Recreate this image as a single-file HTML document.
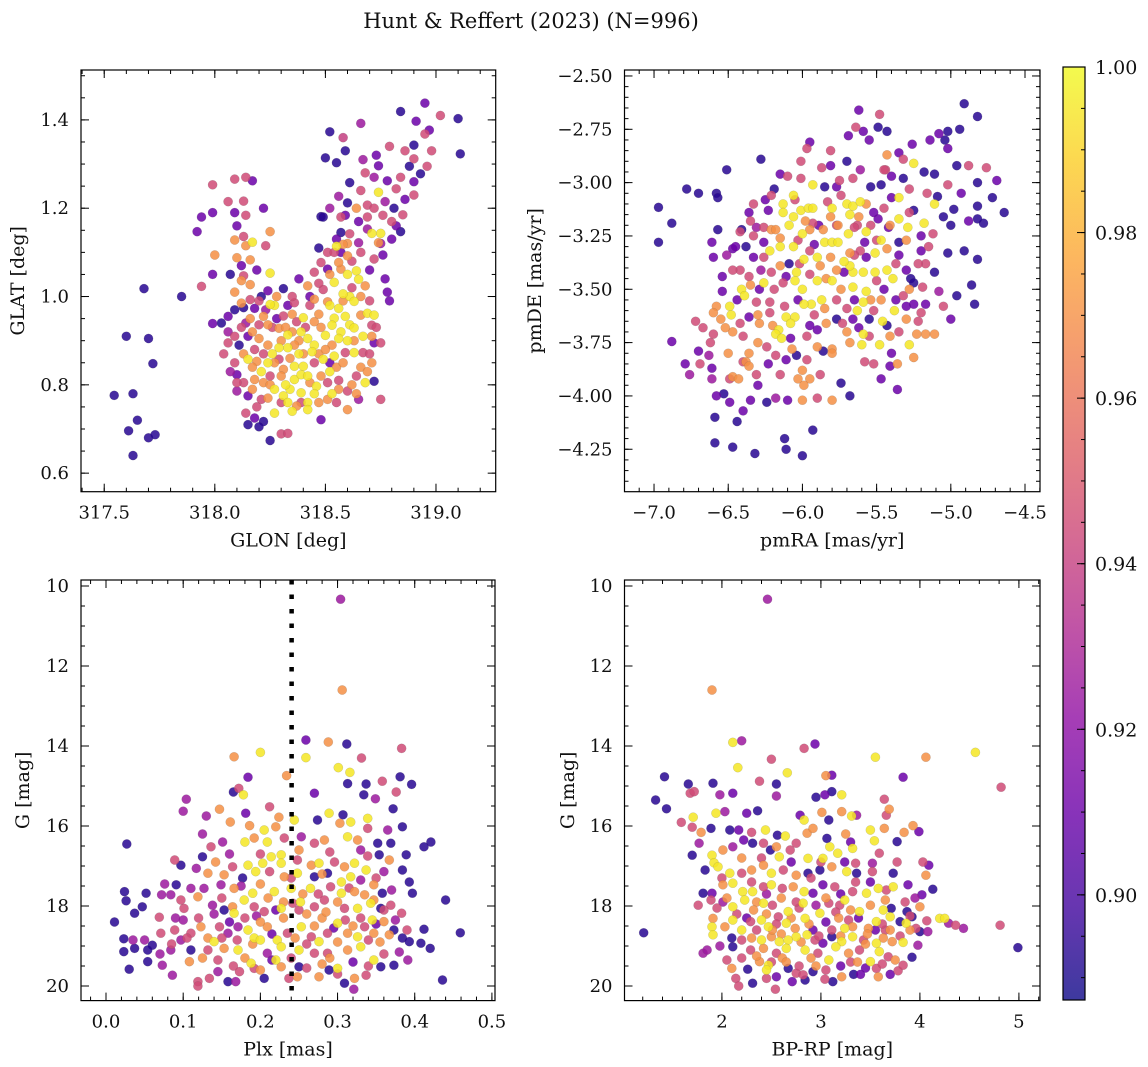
<!DOCTYPE html>
<html><head><meta charset="utf-8">
<style>
html,body{margin:0;padding:0;background:#fff;}
svg{display:block;font-family:"DejaVu Serif","Liberation Serif",serif;}
</style></head>
<body>
<svg id="fig" width="1148" height="1067" viewBox="0 0 1148 1067" xmlns="http://www.w3.org/2000/svg">
<rect x="0" y="0" width="1148" height="1067" fill="#fff"/>
<text x="531" y="28" font-size="21" text-anchor="middle" fill="#111">Hunt &amp; Reffert (2023) (N=996)</text>
</svg>
<script>
// ---- data: [x, y, membership probability] ----
const glonGlat = [
[317.545,0.776,.893],[317.63,0.78,.893],[317.60,0.91,.893],[317.70,0.905,.893],[317.72,0.848,.893],[317.68,1.018,.893],[317.85,1.0,.893],[317.65,0.72,.893],[317.61,0.696,.893],[317.70,0.68,.893],[317.73,0.687,.893],[317.63,0.64,.893],
[318.95,1.438,.91],[318.84,1.419,.893],[319.02,1.41,.945],[319.1,1.403,.893],[318.66,1.392,.925],[318.52,1.373,.893],[318.58,1.36,.94],[318.91,1.397,.91],[318.97,1.377,.91],[318.95,1.368,.945],[318.59,1.33,.893],[318.79,1.34,.945],[318.86,1.33,.945],[318.9,1.343,.893],[319.11,1.323,.893],[318.5,1.314,.893],[318.55,1.303,.893],[318.67,1.31,.925],[318.73,1.32,.91],[318.9,1.312,.945],[318.88,1.295,.893],[318.96,1.295,.945],[318.93,1.278,.893],[318.9,1.26,.91],[318.74,1.296,.91],[318.68,1.28,.945],[318.72,1.27,.925],[318.78,1.262,.91],[318.82,1.244,.945],[318.61,1.258,.893],[318.66,1.24,.945],[318.74,1.236,.995],[318.9,1.23,.945],[318.56,1.227,.925],[318.6,1.212,.893],[318.69,1.207,.945],[318.77,1.215,.925],[318.81,1.2,.893],[318.85,1.185,.945],[318.59,1.184,.91],[318.48,1.181,.893],[318.69,1.18,.945],[318.76,1.184,.945],[318.69,1.153,.925],[318.82,1.16,.91],[318.84,1.147,.893],[318.57,1.145,.893],[318.61,1.142,.945],[318.71,1.143,.995],[318.75,1.143,.995],[318.8,1.13,.91],[318.74,1.122,.97],[318.65,1.122,.925],[318.55,1.13,.91],[318.47,1.11,.893],[318.51,1.1,.945],[318.6,1.12,.97],[318.76,1.094,.91],[318.72,1.085,.945],
[317.99,1.253,.945],[318.09,1.266,.945],[318.14,1.27,.945],[318.17,1.262,.91],[318.06,1.215,.945],[318.13,1.216,.945],[318.22,1.2,.91],[317.94,1.18,.91],[317.99,1.19,.91],[318.09,1.19,.91],[318.14,1.184,.945],[318.1,1.16,.91],[317.92,1.147,.91],[318.25,1.147,.97],[318.13,1.136,.945],[318.17,1.123,.995],[318.09,1.128,.97],[318.14,1.115,.97],[318.23,1.115,.945],[318.0,1.094,.97],[318.1,1.088,.97],[318.16,1.083,.97],[318.12,1.07,.91],[317.99,1.05,.91],[318.07,1.05,.893],[318.13,1.047,.945],[318.19,1.06,.91],[318.25,1.053,.995],[317.94,1.023,.945],[318.12,1.036,.97],[318.16,1.027,.97],[318.09,1.01,.97],[318.24,1.013,.91],[318.49,1.18,.893],[318.38,1.04,.91],[318.31,1.018,.893],
[317.99,0.939,.91],[318.03,0.94,.893],[318.06,0.955,.91],[318.09,0.97,.893],[318.13,0.975,.893],[318.18,0.973,.91],[318.22,0.955,.97],[318.27,0.98,.995],[318.31,0.956,.945],[318.36,0.986,.945],[318.4,0.952,.995],[318.45,0.994,.97],[318.49,1.016,.945],[318.54,1.032,.995],[318.57,1.062,.97],[318.6,1.092,.97],[318.64,1.058,.995],[318.65,1.039,.995],[318.68,1.024,.97],[318.61,1.0,.995],[318.58,1.006,.995],[318.63,0.989,.995],[318.56,0.973,.995],[318.54,0.951,.995],[318.59,0.955,.995],[318.61,0.936,.995],[318.66,0.958,.97],[318.69,0.962,.995],[318.71,0.935,.945],[318.57,0.92,.995],[318.56,0.905,.995],[318.6,0.9,.995],[318.53,0.935,.995],[318.5,0.912,.995],[318.45,0.89,.995],[318.42,0.905,.995],[318.39,0.92,.995],[318.44,0.875,.995],[318.38,0.87,.995],[318.33,0.884,.995],[318.29,0.884,.995],[318.24,0.89,.97],[318.2,0.905,.97],[318.15,0.91,.91],[318.11,0.89,.893],[318.09,0.91,.945],[318.06,0.895,.945],[318.15,0.858,.995],[318.19,0.853,.97],[318.24,0.85,.995],[318.29,0.858,.945],[318.31,0.835,.97],[318.36,0.842,.995],[318.4,0.842,.995],[318.45,0.85,.945],[318.49,0.858,.995],[318.54,0.865,.995],[318.59,0.873,.945],[318.63,0.873,.995],[318.67,0.873,.945],[318.71,0.85,.97],[318.72,0.895,.91],[318.75,0.895,.945],[318.71,0.91,.97],[318.09,0.85,.945],[318.1,0.823,.91],[318.13,0.805,.945],[318.18,0.812,.97],[318.22,0.805,.97],[318.27,0.79,.995],[318.31,0.775,.995],[318.34,0.79,.995],[318.39,0.782,.995],[318.43,0.805,.97],[318.46,0.797,.995],[318.51,0.805,.945],[318.56,0.79,.97],[318.6,0.786,.945],[318.65,0.767,.925],[318.68,0.805,.995],[318.72,0.808,.893],[318.75,0.767,.945],[318.1,0.786,.925],[318.15,0.775,.91],[318.21,0.767,.945],[318.27,0.736,.995],[318.33,0.76,.995],[318.37,0.752,.97],[318.42,0.76,.995],[318.42,0.744,.995],[318.48,0.721,.91],[318.51,0.767,.97],[318.6,0.744,.97],[318.14,0.736,.945],[318.15,0.71,.893],[318.18,0.725,.91],[318.22,0.717,.893],[318.2,0.705,.893],[318.25,0.674,.893],[318.3,0.689,.945],[318.33,0.69,.945],[318.2,0.936,.945],[318.24,0.936,.97],[318.29,0.928,.97],[318.33,0.913,.995],[318.37,0.943,.945],[318.45,0.943,.97],[318.33,0.98,.91],[318.42,1.024,.97],[318.45,1.055,.945],[318.48,1.077,.945],[318.51,1.062,.91],[318.54,1.1,.945],[318.55,1.114,.995],[318.58,1.118,.97],[318.56,1.077,.97],[318.51,0.988,.97],[318.63,0.929,.995],[318.52,0.85,.91],[318.36,0.812,.995],[318.39,0.823,.995],[318.3,0.82,.97],[318.1,0.805,.945],[318.12,0.985,.97],[318.16,0.993,.945],[318.21,1.0,.893],[318.25,0.982,.995],[318.77,1.04,.91],[318.78,1.01,.91],[318.79,0.99,.91],[318.72,0.958,.995],
[318.26,0.93,.945],[318.35,0.96,.97],[318.47,0.96,.97],[318.3,0.9,.97],[318.47,0.87,.97],[318.55,0.84,.97],[318.4,0.87,.97],[318.18,0.88,.945],[318.25,0.82,.945],[318.56,0.81,.945],[318.66,0.84,.97],[318.43,0.98,.945],[318.35,0.92,.97],
[318.14,0.94,.925],[318.17,0.92,.97],[318.23,0.97,.925],[318.28,0.95,.91],[318.32,0.93,.97],[318.38,0.9,.97],[318.41,0.93,.945],[318.48,0.93,.97],[318.52,0.98,.995],[318.58,0.99,.97],[318.62,1.02,.945],[318.66,1.0,.97],[318.7,0.99,.945],[318.6,1.05,.995],[318.62,1.08,.945],[318.57,1.1,.91],[318.66,1.1,.945],[318.7,1.06,.91],[318.52,1.05,.97],[318.47,1.03,.945],[318.43,1.0,.91],[318.35,1.0,.945],[318.28,1.0,.97],[318.2,0.99,.945],[318.16,0.95,.97],[318.12,0.93,.945],[318.13,0.87,.97],[318.17,0.84,.97],[318.21,0.83,.995],[318.27,0.85,.97],[318.34,0.86,.97],[318.42,0.82,.995],[318.48,0.82,.97],[318.52,0.83,.995],[318.58,0.85,.97],[318.64,0.82,.945],[318.69,0.83,.97],[318.62,0.8,.97],[318.53,0.78,.995],[318.47,0.76,.97],[318.39,0.76,.945],[318.35,0.74,.995],[318.3,0.76,.945],[318.24,0.77,.97],[318.19,0.75,.945],[318.17,0.79,.97],[318.25,0.8,.97],[318.32,0.8,.995],[318.45,0.78,.995],[318.55,0.76,.945],[318.64,0.78,.97],[318.7,0.87,.945],[318.73,0.93,.945],[318.67,0.91,.995],[318.63,0.9,.97],[318.53,0.89,.97],[318.5,0.88,.97],[318.36,0.89,.97],[318.26,0.87,.995],[318.22,0.87,.945],[318.06,0.92,.925],[318.04,0.87,.945],[318.07,0.83,.925],[318.75,1.12,.925],[318.8,1.17,.945],[318.72,1.2,.945],[318.65,1.17,.91],[318.86,1.22,.91],[318.84,1.27,.945],[318.98,1.33,.945],[318.64,1.2,.97],[318.52,1.2,.925],[318.57,1.18,.945]
];
const pmraPmde = [
[-6.97,-3.116,.893],[-6.88,-3.19,.893],[-6.97,-3.28,.893],[-6.78,-3.03,.893],[-6.70,-3.05,.893],[-6.58,-3.05,.893],[-6.57,-3.07,.893],[-6.51,-2.94,.893],[-6.28,-2.89,.893],[-6.57,-3.22,.893],[-6.61,-3.28,.91],[-6.60,-3.35,.91],[-6.88,-3.745,.91],[-6.72,-3.65,.945],[-6.67,-3.68,.945],[-6.60,-3.71,.945],[-6.79,-3.85,.91],[-6.69,-3.85,.945],[-6.76,-3.9,.925],[-6.70,-3.79,.91],[-6.63,-3.81,.925],[-6.61,-3.87,.91],[-6.61,-3.92,.925],[-6.58,-4.0,.91],[-6.53,-3.99,.893],[-6.49,-4.03,.91],[-6.59,-4.1,.893],[-6.44,-4.12,.893],[-6.40,-4.07,.91],[-6.59,-4.22,.893],[-6.47,-4.24,.893],[-6.32,-4.27,.893],[-6.12,-4.2,.893],[-6.11,-4.25,.893],[-6.0,-4.28,.893],[-5.93,-4.16,.893],[-5.74,-3.94,.893],[-5.68,-4.0,.893],[-5.80,-4.02,.97],[-5.90,-4.01,.945],[-6.0,-4.02,.97],[-6.10,-4.02,.91],[-6.18,-4.01,.925],[-6.24,-4.03,.893],[-6.35,-4.02,.91],[-5.36,-3.97,.91],[-5.47,-3.92,.91],[-5.41,-3.86,.91],[-5.36,-3.85,.97],[-5.25,-3.82,.97],[-5.58,-3.84,.945],[-5.52,-3.85,.945],[-5.62,-2.66,.91],[-5.48,-2.68,.945],[-5.64,-2.74,.945],[-5.59,-2.76,.91],[-5.49,-2.74,.893],[-5.43,-2.76,.893],[-5.69,-2.78,.91],[-5.55,-2.8,.91],[-4.91,-2.63,.893],[-4.82,-2.69,.893],[-4.94,-2.75,.893],[-5.02,-2.76,.893],[-5.08,-2.77,.91],[-5.04,-2.8,.893],[-5.14,-2.8,.91],[-5.26,-2.82,.91],[-5.02,-2.84,.91],[-4.96,-2.92,.893],[-4.88,-2.92,.945],[-4.76,-2.93,.945],[-4.69,-2.99,.91],[-4.82,-3.0,.893],[-4.72,-3.07,.893],[-4.64,-3.14,.893],[-4.78,-3.19,.893],[-4.82,-3.17,.893],[-4.88,-3.18,.91],[-4.98,-3.125,.893],[-4.82,-3.11,.893],[-4.93,-3.05,.91],[-5.02,-3.01,.945],[-5.09,-3.065,.893],[-5.05,-3.16,.893],[-5.0,-3.2,.893],[-5.02,-3.33,.893],[-4.91,-3.32,.893],[-4.82,-3.36,.893],[-5.11,-3.42,.893],[-4.86,-3.48,.893],[-4.96,-3.53,.893],[-4.84,-3.57,.893],[-5.0,-3.64,.91],[-5.05,-3.58,.945],[-5.08,-3.51,.925],[-5.17,-3.57,.91],[-5.27,-3.45,.893],[-5.20,-3.32,.91],[-5.17,-3.38,.945],[-5.25,-3.13,.893],[-5.16,-3.05,.945],[-5.35,-3.07,.995],[-5.25,-2.91,.995],[-5.43,-2.87,.97],[-5.35,-2.86,.91],[-5.32,-2.89,.945],[-5.44,-2.94,.945],[-5.32,-2.98,.893],[-5.28,-3.03,.945],[-5.18,-2.95,.893],[-5.11,-2.96,.893],[-5.11,-3.1,.995],[-5.18,-3.19,.995],[-5.12,-3.24,.945],[-5.29,-3.21,.995],[-5.35,-3.17,.995],
[-5.93,-3.01,.995],[-6.06,-3.06,.995],[-6.13,-3.1,.995],[-6.13,-3.14,.995],[-6.01,-3.13,.995],[-5.96,-3.12,.995],[-5.93,-3.12,.995],[-5.80,-3.12,.995],[-5.81,-3.16,.97],[-5.70,-3.1,.995],[-5.66,-3.11,.995],[-5.61,-3.09,.995],[-5.57,-3.1,.97],[-5.68,-3.15,.995],[-6.06,-3.16,.995],[-6.09,-3.2,.995],[-6.0,-3.24,.995],[-6.15,-3.3,.995],[-6.06,-3.3,.995],[-5.85,-3.28,.995],[-5.80,-3.28,.995],[-5.76,-3.28,.995],[-5.69,-3.24,.995],[-5.57,-3.23,.995],[-5.47,-3.27,.995],[-5.51,-3.33,.995],[-5.43,-3.31,.97],[-5.43,-3.41,.995],[-5.39,-3.45,.995],[-5.51,-3.42,.995],[-5.59,-3.42,.995],[-5.66,-3.42,.995],[-5.68,-3.39,.995],[-5.72,-3.37,.995],[-5.90,-3.35,.995],[-5.99,-3.36,.995],[-6.04,-3.42,.995],[-6.05,-3.46,.995],[-6.0,-3.5,.995],[-5.90,-3.46,.995],[-5.80,-3.46,.995],[-5.74,-3.5,.97],[-5.66,-3.49,.995],[-5.57,-3.51,.995],[-5.59,-3.56,.995],[-5.54,-3.55,.97],[-5.63,-3.6,.995],[-5.59,-3.71,.995],[-5.60,-3.76,.995],[-5.46,-3.65,.995],[-5.38,-3.6,.995],[-5.28,-3.76,.995],[-5.48,-3.76,.995],[-5.68,-3.75,.97],[-5.80,-3.78,.97],[-5.87,-3.55,.995],[-5.94,-3.57,.995],[-5.99,-3.57,.995],[-6.05,-3.63,.995],[-6.11,-3.63,.995],[-6.08,-3.66,.995],[-6.16,-3.69,.995],[-6.18,-3.71,.995],[-6.14,-3.73,.995],[-6.29,-3.66,.97],[-6.26,-3.47,.995],[-6.41,-3.5,.995],[-6.39,-3.53,.995],[-6.49,-3.58,.995],[-6.48,-3.62,.995],[-6.58,-3.58,.97],[-6.60,-3.61,.97],[-6.47,-3.7,.97],[-6.52,-3.68,.97],[-6.42,-3.66,.945],[-6.36,-3.63,.91],[-6.31,-3.56,.945],[-6.22,-3.56,.945],[-6.24,-3.77,.945],[-6.30,-3.75,.97],[-6.36,-3.8,.97],[-6.38,-3.84,.97],[-6.36,-3.86,.97],[-6.47,-3.91,.97],[-6.49,-3.92,.945],[-6.43,-3.92,.97],[-6.31,-3.9,.945],[-6.23,-3.85,.91],[-6.18,-3.81,.945],[-6.11,-3.83,.91],[-6.04,-3.81,.893],[-5.97,-3.83,.945],[-6.0,-3.88,.97],[-5.95,-3.92,.97],[-6.03,-3.92,.97],[-5.99,-3.95,.97],[-5.88,-3.9,.945],[-5.86,-3.79,.893],[-5.80,-3.8,.97],[-6.26,-3.35,.945],[-6.22,-3.32,.995],[-6.33,-3.35,.91],[-6.36,-3.44,.945],[-6.42,-3.41,.945],[-6.47,-3.41,.945],[-6.54,-3.51,.91],[-6.38,-3.3,.893],[-6.26,-3.28,.91],[-6.33,-3.25,.945],[-6.21,-3.22,.97],[-6.18,-3.22,.97],[-6.42,-3.23,.945],[-6.47,-3.31,.91],[-6.36,-3.14,.91],[-6.33,-3.1,.945],[-6.23,-3.13,.91],[-6.19,-3.03,.893],[-6.21,-3.06,.945],[-6.15,-2.96,.91],[-6.10,-2.97,.945],[-6.01,-2.98,.945],[-5.97,-2.84,.945],[-5.95,-2.81,.91],[-6.01,-2.9,.945],[-5.87,-2.93,.945],[-5.81,-2.85,.945],[-5.81,-2.92,.91],[-5.70,-2.9,.893],[-5.85,-3.02,.893],[-5.77,-3.02,.91],[-5.75,-2.99,.945],[-5.66,-2.98,.945],[-5.61,-2.94,.925],[-5.54,-3.02,.893],[-5.47,-3.01,.893],[-5.45,-2.94,.945],[-5.40,-2.97,.91],[-5.40,-3.07,.91],[-5.49,-3.17,.91],[-5.54,-3.2,.945],[-5.41,-3.2,.97],[-5.35,-3.34,.91],[-5.30,-3.41,.91],[-5.35,-3.28,.893],[-5.22,-3.38,.945],[-5.25,-3.47,.893],[-5.19,-3.49,.945],[-5.32,-3.53,.945],[-5.37,-3.55,.91],[-5.25,-3.57,.91],[-5.20,-3.61,.945],[-5.30,-3.64,.97],[-5.23,-3.71,.97],[-5.17,-3.71,.97],[-5.11,-3.71,.97],[-5.35,-3.7,.945],[-5.41,-3.72,.97],[-5.43,-3.67,.893],[-5.52,-3.6,.945],[-5.55,-3.64,.893],[-5.66,-3.64,.91],[-5.73,-3.66,.945],[-5.77,-3.64,.893],[-5.84,-3.66,.97],[-5.90,-3.69,.91],[-5.97,-3.72,.945],[-6.08,-3.73,.91],[-5.77,-3.55,.945],[-5.84,-3.45,.97],[-5.77,-3.41,.97],[-5.95,-3.43,.945],[-6.13,-3.47,.945],[-6.15,-3.39,.97],[-6.21,-3.42,.945],[-6.09,-3.38,.893],[-5.95,-3.32,.945],[-5.86,-3.22,.97],[-5.93,-3.19,.945],[-5.77,-3.2,.945],[-5.63,-3.2,.945],[-5.61,-3.32,.945],[-5.57,-3.35,.91],[-5.81,-3.35,.97],[-5.68,-3.33,.97],[-6.26,-3.21,.945],[-6.31,-3.21,.925],[-6.41,-3.22,.893],[-6.28,-3.41,.925],[-6.54,-3.44,.91],[-6.51,-3.34,.925],[-6.22,-3.61,.945],[-6.29,-3.5,.91],[-5.95,-3.22,.97],
[-6.05,-3.08,.945],[-5.98,-3.18,.97],[-5.89,-3.2,.91],[-5.74,-3.06,.945],[-5.62,-3.16,.97],[-5.52,-3.14,.91],[-5.45,-3.12,.945],[-5.58,-3.28,.91],[-5.65,-3.34,.945],[-5.72,-3.42,.91],[-5.88,-3.39,.97],[-6.02,-3.38,.945],[-6.11,-3.44,.91],[-6.19,-3.5,.945],[-6.3,-3.62,.97],[-6.4,-3.72,.945],[-6.55,-3.64,.97],[-6.44,-3.55,.91],[-6.35,-3.48,.97],[-6.2,-3.67,.97],[-6.12,-3.58,.945],[-6.03,-3.55,.91],[-5.92,-3.62,.945],[-5.85,-3.59,.97],[-5.7,-3.59,.945],[-5.62,-3.68,.91],[-5.5,-3.46,.945],[-5.45,-3.5,.91],[-5.37,-3.38,.945],[-5.3,-3.27,.97],[-5.28,-3.5,.97],[-5.22,-3.65,.945],[-5.4,-3.8,.91],[-5.55,-3.72,.945],[-5.7,-3.7,.97],[-5.9,-3.77,.97],[-6.07,-3.78,.97],[-6.15,-3.9,.945],[-6.3,-3.95,.91],[-6.4,-3.84,.945],[-6.5,-3.8,.97],[-6.62,-3.75,.945],[-6.45,-3.3,.91],[-6.35,-3.18,.945],[-6.25,-3.08,.91],[-6.15,-3.26,.97],[-6.03,-3.27,.945],[-5.92,-3.29,.91],[-5.83,-3.09,.945],[-5.76,-3.2,.97],[-5.65,-3.21,.945],[-5.5,-3.27,.945],[-5.42,-3.21,.91],[-5.28,-3.14,.945],[-5.2,-3.25,.91],[-5.15,-3.3,.945],[-5.3,-3.58,.91],[-5.47,-3.55,.97],[-5.65,-3.55,.91],[-5.95,-3.67,.91]
];
const plxG = [
[0.304,10.33,.925],[0.306,12.6,.97],[0.259,13.85,.91],[0.288,13.9,.97],[0.312,13.95,.893],[0.383,14.06,.945],[0.2,14.16,.995],[0.166,14.27,.97],[0.259,14.29,.995],[0.331,14.3,.945],[0.301,14.54,.995],[0.316,14.66,.995],[0.234,14.74,.97],[0.184,14.78,.91],[0.381,14.77,.893],[0.396,14.96,.893],[0.313,14.94,.893],[0.358,14.88,.945],[0.337,14.95,.893],[0.165,15.15,.893],[0.172,15.06,.945],[0.178,15.22,.995],[0.27,15.18,.91],[0.376,15.15,.945],[0.104,15.33,.925],[0.1,15.63,.925],[0.147,15.58,.97],[0.13,15.75,.925],[0.181,15.68,.91],[0.212,15.52,.945],[0.224,15.78,.97],[0.289,15.68,.995],[0.339,15.81,.995],[0.307,15.72,.893],[0.372,15.57,.893],[0.349,15.32,.925],[0.334,15.22,.893],[0.384,16.02,.893],[0.365,16.1,.925],[0.161,15.9,.97],[0.186,15.99,.97],[0.205,16.1,.995],[0.22,16.02,.97],[0.244,15.85,.995],[0.274,15.85,.893],[0.303,15.93,.97],[0.317,15.9,.995],[0.339,16.06,.945],[0.421,16.4,.893],[0.412,16.52,.893],[0.027,16.45,.893],[0.125,16.2,.925],[0.151,16.4,.925],[0.136,16.52,.945],[0.18,16.4,.995],[0.192,16.3,.97],[0.209,16.4,.995],[0.231,16.3,.945],[0.253,16.27,.925],[0.27,16.43,.945],[0.283,16.35,.97],[0.313,16.27,.995],[0.326,16.35,.97],[0.352,16.43,.893],[0.369,16.43,.893],[0.389,16.72,.893],[0.089,16.85,.945],[0.097,16.98,.893],[0.117,17.06,.925],[0.125,16.77,.893],[0.142,16.9,.97],[0.164,17.02,.945],[0.184,16.98,.995],[0.203,16.93,.995],[0.214,16.77,.995],[0.227,16.72,.995],[0.227,16.93,.995],[0.248,16.85,.945],[0.266,16.98,.97],[0.276,16.93,.995],[0.296,16.9,.945],[0.309,17.02,.97],[0.322,16.93,.995],[0.339,16.75,.945],[0.354,16.72,.893],[0.367,16.85,.97],[0.384,17.1,.893],[0.132,17.18,.97],[0.153,17.22,.97],[0.177,17.3,.893],[0.194,17.14,.995],[0.212,17.14,.945],[0.231,17.27,.97],[0.248,17.18,.995],[0.27,17.27,.893],[0.287,17.18,.893],[0.305,17.4,.995],[0.317,17.27,.995],[0.337,17.1,.995],[0.347,17.47,.97],[0.36,17.14,.925],[0.393,17.4,.893],[0.397,17.68,.893],[0.076,17.45,.925],[0.091,17.47,.893],[0.11,17.56,.925],[0.127,17.56,.925],[0.149,17.47,.925],[0.166,17.56,.97],[0.19,17.68,.995],[0.218,17.64,.995],[0.24,17.56,.995],[0.265,17.56,.995],[0.291,17.52,.945],[0.305,17.68,.995],[0.322,17.64,.97],[0.335,17.72,.97],[0.347,17.85,.97],[0.358,17.68,.893],[0.024,17.64,.893],[0.026,17.87,.893],[0.037,18.18,.893],[0.047,18.02,.893],[0.052,17.68,.893],[0.072,17.72,.925],[0.084,17.72,.925],[0.101,18.06,.945],[0.097,17.85,.945],[0.119,17.77,.97],[0.138,17.98,.925],[0.153,18.1,.893],[0.164,18.02,.97],[0.179,17.85,.995],[0.192,18.02,.945],[0.205,18.14,.945],[0.227,18.06,.995],[0.242,17.93,.945],[0.252,17.9,.995],[0.27,18.02,.945],[0.283,17.85,.945],[0.309,18.06,.945],[0.326,18.06,.995],[0.343,17.93,.995],[0.356,18.06,.893],[0.369,17.98,.945],[0.383,18.18,.945],[0.44,17.85,.893],[0.011,18.4,.893],[0.023,18.82,.893],[0.035,18.85,.925],[0.023,19.14,.893],[0.037,19.06,.893],[0.05,18.85,.925],[0.06,18.98,.893],[0.069,18.28,.945],[0.071,18.68,.945],[0.089,18.6,.945],[0.097,18.85,.925],[0.11,18.68,.945],[0.123,18.52,.97],[0.132,18.8,.97],[0.14,18.89,.995],[0.147,18.52,.945],[0.158,18.68,.925],[0.166,18.18,.995],[0.171,18.52,.925],[0.184,18.6,.995],[0.192,18.8,.995],[0.2,18.85,.995],[0.209,18.52,.97],[0.222,18.85,.995],[0.227,19.02,.995],[0.235,18.68,.945],[0.253,18.52,.995],[0.266,18.77,.945],[0.276,18.89,.995],[0.287,18.68,.945],[0.3,18.43,.995],[0.313,18.68,.97],[0.326,18.77,.995],[0.335,18.52,.945],[0.345,18.35,.995],[0.347,18.68,.97],[0.36,18.39,.97],[0.367,18.72,.97],[0.373,18.6,.893],[0.384,18.8,.893],[0.393,18.89,.893],[0.408,18.93,.893],[0.412,18.58,.893],[0.42,19.06,.893],[0.459,18.67,.893],[0.03,19.58,.893],[0.054,19.39,.893],[0.073,19.48,.925],[0.086,19.73,.925],[0.108,19.39,.97],[0.119,19.89,.945],[0.119,20.0,.945],[0.134,19.81,.945],[0.145,19.64,.925],[0.158,19.89,.893],[0.168,19.89,.925],[0.173,19.64,.945],[0.188,19.43,.995],[0.192,19.56,.945],[0.205,19.81,.893],[0.22,19.35,.995],[0.227,19.52,.97],[0.237,19.81,.945],[0.248,19.77,.97],[0.25,19.52,.893],[0.25,19.1,.995],[0.276,19.77,.97],[0.289,19.6,.893],[0.3,19.56,.995],[0.309,19.93,.893],[0.321,20.08,.925],[0.322,19.81,.97],[0.337,19.73,.945],[0.347,19.35,.995],[0.356,19.52,.893],[0.373,19.48,.893],[0.391,19.35,.925],[0.436,19.85,.893],[0.27,19.18,.945],[0.287,19.18,.945],[0.313,19.1,.97],[0.33,19.02,.995],[0.209,19.18,.925],[0.171,19.1,.995],[0.153,19.06,.97],[0.132,19.1,.945],[0.11,19.1,.893],[0.084,19.1,.925],[0.054,19.1,.893],
[0.2,18.4,.97],[0.28,18.3,.97],[0.3,18.9,.97],[0.18,18.3,.945],[0.26,18.2,.97],[0.33,18.3,.945],[0.15,18.8,.945],[0.24,19.3,.945],[0.29,19.3,.97],[0.21,17.8,.97],
[0.12,18.3,.945],[0.14,18.2,.925],[0.16,18.4,.91],[0.17,18.85,.945],[0.18,19.3,.97],[0.195,18.25,.925],[0.215,18.7,.91],[0.23,18.3,.97],[0.245,18.8,.97],[0.26,18.95,.945],[0.27,18.5,.97],[0.285,18.15,.97],[0.295,18.55,.91],[0.31,18.35,.945],[0.32,18.5,.97],[0.34,18.85,.945],[0.355,18.9,.97],[0.36,18.1,.945],[0.375,18.35,.925],[0.39,18.6,.945],[0.1,18.35,.925],[0.085,18.95,.945],[0.07,19.2,.925],[0.125,19.3,.97],[0.145,19.35,.945],[0.165,19.5,.945],[0.2,19.6,.97],[0.215,19.35,.91],[0.26,19.55,.945],[0.28,19.45,.97],[0.3,19.7,.945],[0.32,19.4,.91],[0.34,19.5,.945],[0.36,19.2,.945],[0.38,19.15,.925],[0.15,17.8,.945],[0.175,17.5,.925],[0.2,17.45,.97],[0.23,17.9,.97],[0.255,17.7,.97],[0.275,17.7,.945],[0.3,17.9,.97],[0.315,17.55,.945],[0.33,17.35,.925],[0.35,17.3,.945],[0.37,17.6,.925],[0.2,16.7,.945],[0.25,16.6,.97],[0.29,16.65,.945],[0.33,16.6,.925],[0.16,16.7,.925],[0.24,17.3,.945],[0.28,17.2,.97],[0.19,18.95,.97],[0.25,18.1,.945],[0.22,18.1,.91],[0.35,18.45,.91],[0.105,18.8,.945],[0.09,18.3,.925]
];
const bprpG = [
[2.46,10.33,.925],[1.90,12.6,.97],[2.11,13.91,.995],[2.20,13.87,.925],[2.94,13.95,.91],[2.83,14.06,.945],[2.50,14.33,.945],[3.55,14.28,.995],[4.06,14.28,.97],[4.56,14.16,.995],[2.16,14.54,.995],[2.66,14.67,.995],[3.05,14.74,.97],[3.11,14.73,.91],[3.83,14.78,.91],[4.82,15.03,.945],[1.42,14.77,.893],[1.66,14.95,.893],[1.91,14.93,.893],[2.38,14.88,.945],[2.55,14.95,.893],[1.33,15.35,.893],[1.44,15.57,.893],[1.68,15.18,.945],[1.72,15.14,.945],[1.98,15.22,.925],[2.11,15.18,.91],[2.55,15.25,.925],[2.95,15.28,.893],[3.04,15.22,.91],[3.11,15.14,.893],[3.21,15.22,.995],[1.59,15.91,.945],[1.71,15.78,.995],[1.94,15.68,.995],[2.03,15.64,.925],[2.25,15.68,.91],[2.36,15.62,.893],[2.79,15.73,.91],[2.83,15.85,.995],[3.01,15.66,.97],[3.08,15.85,.893],[3.21,15.64,.97],[3.31,15.75,.995],[3.36,15.73,.925],[3.64,15.33,.945],[3.69,15.58,.97],[3.66,15.73,.945],[3.93,15.99,.97],[3.99,16.14,.91],[1.70,16.03,.945],[1.79,16.16,.97],[1.89,16.06,.893],[2.08,16.1,.893],[2.17,16.1,.91],[2.30,16.16,.945],[2.44,16.1,.995],[2.56,16.23,.893],[2.64,16.25,.995],[2.86,16.18,.97],[2.92,16.06,.97],[3.06,16.31,.893],[3.25,16.2,.97],[3.50,16.1,.995],[3.54,16.37,.995],[3.64,16.06,.97],[3.84,16.16,.97],[3.77,16.39,.893],[1.70,16.73,.893],[1.77,16.43,.925],[1.90,16.73,.995],[1.92,16.92,.995],[2.01,16.6,.97],[2.11,16.52,.925],[2.22,16.35,.91],[2.31,16.43,.893],[2.42,16.43,.945],[2.49,16.6,.893],[2.55,16.52,.97],[2.58,16.77,.995],[2.69,16.6,.945],[2.75,16.43,.945],[2.87,16.81,.995],[3.02,16.81,.995],[3.09,16.52,.995],[3.17,16.68,.995],[3.32,16.56,.995],[3.24,16.9,.91],[3.35,16.93,.945],[3.52,16.93,.925],[3.59,16.68,.945],[3.77,16.9,.945],[4.03,16.9,.945],[4.09,16.98,.91],[4.06,17.23,.97],[1.83,17.1,.893],[1.96,17.02,.995],[2.08,17.18,.995],[2.20,17.18,.945],[2.30,17.1,.97],[2.42,16.98,.97],[2.50,17.18,.995],[2.62,17.1,.945],[2.75,17.23,.97],[2.87,17.18,.893],[2.99,17.1,.893],[3.11,17.02,.97],[3.26,17.14,.995],[3.36,17.18,.893],[3.52,17.14,.945],[3.73,17.18,.893],[3.88,17.47,.91],[4.13,17.58,.893],[4.02,17.72,.91],[1.81,17.68,.893],[1.90,17.68,.91],[2.01,17.47,.97],[2.11,17.43,.995],[2.21,17.64,.995],[2.31,17.64,.995],[2.42,17.52,.945],[2.50,17.47,.995],[2.61,17.56,.945],[2.72,17.52,.97],[2.83,17.64,.995],[2.92,17.68,.91],[3.02,17.47,.91],[3.14,17.52,.945],[3.24,17.85,.995],[3.32,17.64,.945],[3.46,17.68,.995],[3.58,17.56,.995],[3.66,17.6,.945],[3.73,17.52,.995],[3.85,17.9,.945],[4.0,18.02,.97],[1.76,17.98,.945],[1.89,17.85,.945],[2.01,17.9,.925],[2.11,18.02,.995],[2.23,17.85,.995],[2.35,17.9,.97],[2.42,17.93,.995],[2.51,17.98,.945],[2.67,18.14,.995],[2.82,17.93,.995],[2.95,17.98,.925],[3.08,17.93,.945],[3.19,17.98,.945],[3.30,18.1,.97],[3.39,18.14,.995],[3.50,17.98,.97],[3.63,18.1,.995],[3.71,18.06,.893],[3.87,18.14,.893],[3.92,18.27,.893],[4.20,18.31,.995],[4.25,18.31,.995],[4.29,18.43,.925],[4.36,18.48,.945],[4.44,18.56,.925],[4.81,18.48,.945],[4.99,19.04,.893],[1.21,18.67,.893],[1.91,18.31,.97],[1.90,18.52,.995],[1.91,18.72,.995],[2.03,18.52,.97],[2.11,18.35,.995],[2.20,18.6,.995],[2.29,18.39,.945],[2.40,18.35,.995],[2.47,18.52,.995],[2.57,18.27,.945],[2.65,18.43,.995],[2.74,18.56,.97],[2.84,18.31,.995],[2.92,18.6,.91],[2.99,18.18,.995],[3.11,18.6,.945],[3.24,18.56,.995],[3.32,18.52,.97],[3.48,18.56,.97],[3.56,18.39,.995],[3.65,18.6,.945],[3.70,18.27,.995],[3.80,18.39,.893],[3.86,18.43,.995],[3.96,18.56,.945],[4.07,18.37,.945],[4.0,18.64,.893],[3.83,18.91,.995],[3.72,18.89,.97],[3.63,18.8,.97],[3.56,18.93,.995],[3.43,18.85,.945],[3.32,18.77,.995],[3.21,18.89,.995],[3.11,18.77,.893],[3.02,18.93,.91],[2.94,18.85,.945],[2.86,18.72,.995],[2.75,18.77,.995],[2.67,18.85,.995],[2.58,18.89,.995],[2.50,18.77,.97],[2.40,18.85,.995],[2.30,18.8,.97],[2.20,18.85,.945],[2.11,19.02,.893],[2.10,18.8,.893],[1.81,19.18,.925],[1.85,19.1,.925],[2.29,19.1,.945],[2.42,19.06,.97],[2.55,19.18,.945],[2.65,19.06,.995],[2.84,19.1,.995],[2.97,19.18,.945],[3.08,19.35,.995],[3.15,19.02,.995],[3.28,19.18,.97],[3.39,19.1,.945],[3.50,19.39,.995],[3.59,19.14,.995],[3.68,19.27,.945],[3.92,19.28,.893],[3.98,18.98,.925],[4.08,18.64,.925],[2.10,19.56,.97],[2.26,19.58,.893],[2.38,19.39,.97],[2.47,19.48,.995],[2.45,19.6,.995],[2.55,19.77,.91],[2.67,19.56,.893],[2.75,19.68,.945],[2.84,19.85,.893],[2.92,19.64,.893],[3.04,19.83,.945],[3.12,19.89,.893],[3.21,19.77,.97],[3.33,19.71,.893],[3.40,19.71,.91],[3.58,19.77,.97],[3.70,19.71,.91],[3.78,19.62,.945],[2.14,19.81,.945],[2.17,20.0,.945],[2.31,19.93,.893],[2.45,19.81,.945],[2.54,20.08,.945],[2.71,19.89,.91],[2.82,19.72,.945],[3.56,19.56,.945],[3.83,19.48,.945],
[2.51,18.6,.97],[2.80,18.9,.97],[3.18,18.3,.97],[3.47,18.7,.97],[2.32,18.1,.97],[2.90,19.3,.97],[2.61,19.3,.97],[3.37,19.4,.97],
[2.0,17.3,.945],[2.05,17.8,.97],[2.15,18.2,.945],[2.25,18.3,.91],[2.35,18.6,.945],[2.45,18.2,.97],[2.55,18.45,.945],[2.6,18.7,.97],[2.7,18.3,.97],[2.78,18.05,.945],[2.88,18.45,.97],[2.98,18.75,.945],[3.05,18.4,.91],[3.15,18.15,.945],[3.2,18.75,.97],[3.28,18.35,.945],[3.38,18.3,.91],[3.45,18.95,.97],[3.55,18.6,.91],[3.62,18.45,.945],[3.7,18.6,.97],[3.8,18.75,.945],[3.9,18.6,.97],[2.2,19.3,.945],[2.35,19.25,.97],[2.5,19.4,.945],[2.65,19.4,.97],[2.78,19.5,.945],[2.95,19.5,.97],[3.05,19.6,.945],[3.2,19.5,.91],[3.3,19.4,.945],[3.45,19.55,.91],[3.62,19.45,.945],[3.75,19.35,.97],[2.3,17.4,.945],[2.45,17.7,.925],[2.6,17.8,.97],[2.75,17.9,.945],[2.9,17.3,.945],[3.05,17.8,.97],[3.2,17.7,.91],[3.35,17.4,.945],[3.5,17.4,.91],[3.65,17.85,.97],[2.4,16.8,.945],[2.7,16.9,.91],[3.0,16.9,.945],[3.3,16.4,.91],[2.2,16.8,.97],[1.95,18.05,.945],[1.98,19.0,.925],[2.05,19.35,.945],[3.9,18.25,.945],[3.95,17.8,.925]
];
const plxCut = [0.2405];
const cbarTicks = [0.90, 0.92, 0.94, 0.96, 0.98, 1.00];
const probMin = 0.8873, probMax = 1.0;

// ---- plasma colormap ----
const PL = ["#0d0887","#41049d","#6a00a8","#8f0da4","#b12a90","#cc4778","#e16462","#f2844b","#fca636","#fcce25","#f0f921"];
function hex(h){return [parseInt(h.slice(1,3),16),parseInt(h.slice(3,5),16),parseInt(h.slice(5,7),16)];}
function plasma(t){t=Math.max(0,Math.min(1,t));const s=t*10,i=Math.min(9,Math.floor(s)),f=s-i;const a=hex(PL[i]),b=hex(PL[i+1]);
return "rgb("+a.map((v,k)=>Math.round(v+(b[k]-v)*f)).join(",")+")";}
function pcol(p){return plasma((p-probMin)/(probMax-probMin));}

const NS="http://www.w3.org/2000/svg";
const svg=document.getElementById('fig');
function mk(tag,attrs,parent){const e=document.createElementNS(NS,tag);for(const k in attrs)e.setAttribute(k,attrs[k]);(parent||svg).appendChild(e);return e;}
function fmt(v,d){let s=v.toFixed(d);if(v<0)s="\u2212"+s.slice(1);return s;}

function panel(cfg){
  const g=mk('g',{});
  
  
  const L=cfg.box[0],T=cfg.box[1],R=cfg.box[2],B=cfg.box[3];
  const sx=v=>L+(v-cfg.xlim[0])/(cfg.xlim[1]-cfg.xlim[0])*(R-L);
  const sy=cfg.yinv? (v=>T+(v-cfg.ylim[0])/(cfg.ylim[1]-cfg.ylim[0])*(B-T)) : (v=>B-(v-cfg.ylim[0])/(cfg.ylim[1]-cfg.ylim[0])*(B-T));
  const clipId='clip-'+cfg.name;
  const cp=mk('clipPath',{id:clipId},g);mk('rect',{x:L,y:T,width:R-L,height:B-T},cp);
  const pts=mk('g',{'clip-path':'url(#'+clipId+')'},g);
  
  
  const data=cfg.data.slice().sort((a,b)=>a[2]-b[2]);
  data.forEach(d=>{
    const c=mk('circle',{cx:sx(d[0]).toFixed(1),cy:sy(d[1]).toFixed(1),r:4.6,fill:pcol(d[2]),'fill-opacity':0.85,stroke:'#555','stroke-opacity':0.35,'stroke-width':0.4},pts);
    
    
  });
  if(cfg.vline){cfg.vline.forEach(v=>{
    const ln=mk('line',{x1:sx(v),x2:sx(v),y1:T,y2:B,stroke:'#000','stroke-width':4.5,'stroke-dasharray':'4.5,10'},g);
    
    
  });}
  const tk=mk('g',{stroke:'#000','stroke-width':1},g);
  const eps=1e-9;
  function range(a,b,s){const out=[];const st=Math.ceil((a-eps)/s);for(let i=st;i*s<=b+eps;i++)out.push(+(i*s).toFixed(6));return out;}
  const xlo=Math.min(...cfg.xlim),xhi=Math.max(...cfg.xlim),ylo=Math.min(...cfg.ylim),yhi=Math.max(...cfg.ylim);
  range(xlo,xhi,cfg.xminor).forEach(v=>{const x=sx(v);mk('line',{x1:x,x2:x,y1:B,y2:B-4},tk);mk('line',{x1:x,x2:x,y1:T,y2:T+4},tk);});
  range(ylo,yhi,cfg.yminor).forEach(v=>{const y=sy(v);mk('line',{x1:L,x2:L+4,y1:y,y2:y},tk);mk('line',{x1:R,x2:R-4,y1:y,y2:y},tk);});
  range(xlo,xhi,cfg.xmajor).forEach(v=>{const x=sx(v);mk('line',{x1:x,x2:x,y1:B,y2:B-8},tk);mk('line',{x1:x,x2:x,y1:T,y2:T+8},tk);
    const t=mk('text',{x:x,y:B+27,'font-size':18,'text-anchor':'middle',fill:'#111'},g);t.textContent=fmt(v,cfg.xdec);
    });
  range(ylo,yhi,cfg.ymajor).forEach(v=>{const y=sy(v);mk('line',{x1:L,x2:L+8,y1:y,y2:y},tk);mk('line',{x1:R,x2:R-8,y1:y,y2:y},tk);
    const t=mk('text',{x:L-12,y:y+6,'font-size':18,'text-anchor':'end',fill:'#111'},g);t.textContent=fmt(v,cfg.ydec);
    });
  const fr=mk('rect',{x:L,y:T,width:R-L,height:B-T,fill:'none',stroke:'#000','stroke-width':1.2},g);
  
  const xl=mk('text',{x:(L+R)/2,y:B+55,'font-size':19,'text-anchor':'middle',fill:'#111'},g);xl.textContent=cfg.xlabel;
  
  const yl=mk('text',{x:cfg.ylx,y:(T+B)/2,'font-size':19,'text-anchor':'middle',fill:'#111',transform:'rotate(-90 '+cfg.ylx+' '+(T+B)/2+')'},g);yl.textContent=cfg.ylabel;
  
}

panel({name:'glon-glat-panel',box:[81,70,495.7,491.7],xlim:[317.395,319.27],ylim:[0.558,1.513],data:glonGlat,xmajor:0.5,xminor:0.1,ymajor:0.2,yminor:0.05,xdec:1,ydec:1,xlabel:'GLON [deg]',ylabel:'GLAT [deg]',ylx:24});
panel({name:'pm-panel',box:[624.5,70,1040,491.7],xlim:[-7.199,-4.399],ylim:[-4.449,-2.472],data:pmraPmde,xmajor:0.5,xminor:0.1,ymajor:0.25,yminor:0.05,xdec:1,ydec:2,xlabel:'pmRA [mas/yr]',ylabel:'pmDE [mas/yr]',ylx:541});
panel({name:'plx-g-panel',box:[81,580,495,1000.6],xlim:[-0.0324,0.504],ylim:[9.85,20.365],yinv:true,data:plxG,xmajor:0.1,xminor:0.02,ymajor:2,yminor:0.5,xdec:1,ydec:0,xlabel:'Plx [mas]',ylabel:'G [mag]',ylx:29,vline:plxCut});
panel({name:'cmd-panel',box:[624.5,580,1040,1000.6],xlim:[1.016,5.213],ylim:[9.85,20.365],yinv:true,data:bprpG,xmajor:1,xminor:0.2,ymajor:2,yminor:0.5,xdec:0,ydec:0,xlabel:'BP-RP [mag]',ylabel:'G [mag]',ylx:574});

// ---- colorbar ----
(function(){
  const L=1063,R=1085,T=67,B=1000;
  const g=mk('g',{});
  
  
  const defs=mk('defs',{},g);
  const lg=mk('linearGradient',{id:'cbg',x1:0,y1:1,x2:0,y2:0},defs);
  for(let i=0;i<=20;i++){mk('stop',{offset:i/20,'stop-color':plasma(i/20)},lg);}
  mk('rect',{x:L,y:T,width:R-L,height:B-T,fill:'url(#cbg)','fill-opacity':0.8},g);
  const sy=v=>B-(v-probMin)/(probMax-probMin)*(B-T);
  for(let v=0.89;v<=1.0001;v+=0.005){const y=sy(v);if(y<T-0.5||y>B+0.5)continue;mk('line',{x1:R,x2:R-4,y1:y,y2:y,stroke:'#000','stroke-width':1},g);}
  cbarTicks.forEach(v=>{const y=sy(v);mk('line',{x1:R,x2:R-8,y1:y,y2:y,stroke:'#000','stroke-width':1},g);
    const t=mk('text',{x:R+10,y:y+7,'font-size':19,fill:'#111'},g);t.textContent=v.toFixed(2);
    });
  mk('rect',{x:L,y:T,width:R-L,height:B-T,fill:'none',stroke:'#000','stroke-width':1.2},g);
})();
</script>
</body></html>
